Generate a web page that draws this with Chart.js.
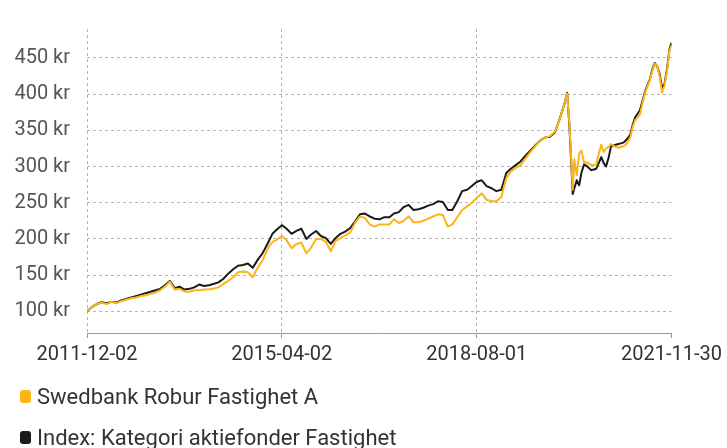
<!DOCTYPE html>
<html>
<head>
<meta charset="utf-8">
<script src="https://cdn.jsdelivr.net/npm/chart.js@4.4.0/dist/chart.umd.min.js"></script>
<style>
  html, body { margin: 0; padding: 0; background: #fff; }
  #wrap { position: relative; width: 727px; height: 448px; }
  #legend { position: absolute; left: 20px; top: 380px; font: 22px Roboto, sans-serif; color: #333; }
  .item { display: flex; align-items: center; height: 32px; margin-bottom: 9px; white-space: nowrap; }
  .swatch { width: 11px; height: 13px; border-radius: 3px; margin-right: 6px; }
</style>
</head>
<body>
<div id="wrap">
  <canvas id="myChart" width="727" height="448"></canvas>
  <div id="legend"></div>
</div>
<script>
Chart.defaults.font.family = "Roboto, 'DejaVu Sans', sans-serif";
Chart.defaults.font.size = 20;
Chart.defaults.color = '#555';

const seriesNames = ['Swedbank Robur Fastighet A', 'Index: Kategori aktiefonder Fastighet'];
const seriesColors = ['#fdb515', '#1a1a1a'];

const xTickLabels = ['2011-12-02', '2015-04-02', '2018-08-01', '2021-11-30'];
const yTickValues = [100, 150, 200, 250, 300, 350, 400, 450];

const dates = [
  '2011-12-02','2012-01-02','2012-02-02','2012-03-02','2012-04-02','2012-05-02','2012-06-02','2012-07-02','2012-08-02','2012-09-02','2012-10-02','2012-11-02',
  '2012-12-02','2013-01-02','2013-02-02','2013-03-02','2013-04-02','2013-05-02','2013-06-02','2013-07-02','2013-08-02','2013-09-02','2013-10-02','2013-11-02',
  '2013-12-02','2014-01-02','2014-02-02','2014-03-02','2014-04-02','2014-05-02','2014-06-02','2014-07-02','2014-08-02','2014-09-02','2014-10-02','2014-11-02',
  '2014-12-02','2015-01-02','2015-02-02','2015-03-02','2015-04-02','2015-05-02','2015-06-02','2015-07-02','2015-08-02','2015-09-02','2015-10-02','2015-11-02',
  '2015-12-02','2016-01-02','2016-02-02','2016-03-02','2016-04-02','2016-05-02','2016-06-02','2016-07-02','2016-08-02','2016-09-02','2016-10-02','2016-11-02',
  '2016-12-02','2017-01-02','2017-02-02','2017-03-02','2017-04-02','2017-05-02','2017-06-02','2017-07-02','2017-08-02','2017-09-02','2017-10-02','2017-11-02',
  '2017-12-02','2018-01-02','2018-02-02','2018-03-02','2018-04-02','2018-05-02','2018-06-02','2018-07-02','2018-08-02','2018-09-02','2018-10-02','2018-11-02',
  '2018-12-02','2019-01-02','2019-02-02','2019-03-02','2019-04-02','2019-05-02','2019-06-02','2019-07-02','2019-08-02','2019-09-02','2019-10-02','2019-11-02',
  '2019-12-02','2020-01-02',
  '2020-02-02','2020-02-17','2020-03-02','2020-03-17','2020-03-23','2020-04-02','2020-04-17','2020-05-02','2020-05-17','2020-06-02','2020-06-17',
  '2020-07-02','2020-07-17','2020-08-02','2020-08-17','2020-09-02','2020-09-17','2020-10-02','2020-10-17','2020-11-02','2020-11-17','2020-12-02','2020-12-17',
  '2021-01-02','2021-01-17','2021-02-02','2021-02-17','2021-03-02','2021-03-17','2021-04-02','2021-04-17','2021-05-02','2021-05-17','2021-06-02','2021-06-17',
  '2021-07-02','2021-07-17','2021-08-02','2021-08-17','2021-09-02','2021-09-17','2021-10-02','2021-10-17','2021-11-02','2021-11-17','2021-11-30'
];

// Swedbank Robur Fastighet A
const fundValues = [
  100, 106, 110, 112, 110, 113, 111, 114, 116, 118, 119, 121,
  122, 124, 126, 129, 134, 141, 130, 131, 127.5, 127, 129, 129,
  130, 130.5, 131.5, 133, 138, 142, 147, 154, 155, 154, 147, 160,
  170, 186, 196, 199, 204, 198, 187, 193, 195, 180, 188, 200,
  200, 196, 183, 197, 201, 205, 209, 222, 231, 229, 220, 217,
  220, 220, 220, 227, 222, 225, 231, 223, 223, 225, 228, 231,
  234, 233, 217, 220, 230, 240, 245, 250, 257, 263, 254, 252,
  252, 258, 284, 293, 298, 302, 311, 320, 328, 336, 340, 342,
  348, 365,
  388, 401, 360, 295, 268, 310, 288, 318, 322, 305, 306,
  304, 302, 302, 303, 318, 330, 320, 325, 327, 331, 329, 327,
  326, 327, 328, 330, 334, 340, 355, 364, 368, 372, 388, 401,
  410, 419, 432, 442, 438, 425, 402, 412, 432, 460, 467
];

// Index: Kategori aktiefonder Fastighet
const indexValues = [
  100, 106, 110, 112.5, 111, 113, 112, 115, 117, 119, 121, 123,
  125, 127, 129, 131, 136, 142, 132, 134, 130, 131, 133, 137,
  135, 136, 138, 140, 145, 152, 158, 163, 164, 166, 160, 171,
  180, 193, 207, 213, 219, 214, 207, 211, 214, 200, 206, 211,
  204, 201, 193, 201, 207, 210, 215, 224, 234, 235, 231, 228,
  227, 230, 230, 235, 237, 244, 247, 240, 241, 243, 246, 248,
  252, 251, 240, 240, 252, 266, 268, 273, 279, 281, 273, 270,
  266, 268, 291, 297, 302, 307, 315, 322, 329, 336, 340, 341,
  347, 366,
  388, 402, 357, 290, 262, 270, 281, 274, 292, 303, 301,
  298, 295, 296, 297, 305, 313, 305, 300, 312, 328, 329, 330,
  331, 332, 333, 336, 339, 344, 358, 368, 373, 378, 391, 403,
  412, 420, 434, 443, 438, 428, 408, 414, 435, 462, 471
];

function dayNumber(s) {
  const p = s.split('-');
  const s0 = xTickLabels[0].split('-');
  return (Date.UTC(+p[0], p[1] - 1, +p[2]) - Date.UTC(+s0[0], s0[1] - 1, +s0[2])) / 86400000;
}
const xTickDays = xTickLabels.map(dayNumber);

function toPoints(values) {
  return dates.map((d, i) => ({x: dayNumber(d), y: values[i]}));
}

const gridColor = '#b5b5b5';

const ctx = document.getElementById('myChart');
new Chart(ctx, {
  type: 'line',
  data: {
    datasets: [{
      label: seriesNames[0],
      data: toPoints(fundValues),
      borderColor: seriesColors[0],
      borderWidth: 2,
      pointRadius: 0,
      borderJoinStyle: 'round',
    }, {
      label: seriesNames[1],
      data: toPoints(indexValues),
      borderColor: seriesColors[1],
      borderWidth: 2,
      pointRadius: 0,
      borderJoinStyle: 'round',
    }]
  },
  options: {
    responsive: false,
    animation: false,
    layout: { padding: { top: 17, right: 55 } },
    plugins: { legend: { display: false }, tooltip: { enabled: false } },
    scales: {
      x: {
        type: 'linear',
        min: 0,
        max: xTickDays[xTickDays.length - 1],
        afterBuildTicks: s => { s.ticks = xTickDays.map(v => ({value: v})); },
        afterFit: s => { s.height = 115; },
        ticks: {
          autoSkip: false,
          maxRotation: 0,
          padding: 5,
          color: '#333',
          callback: v => xTickLabels[xTickDays.indexOf(v)]
        },
        grid: {
          color: c => c.index === xTickDays.length - 1 ? 'rgba(0,0,0,0)' : gridColor,
          tickColor: '#999',
          tickLength: 5,
        },
        border: { display: true, color: '#999', dash: [3, 3] }
      },
      y: {
        min: 70,
        max: 490,
        afterBuildTicks: s => { s.ticks = yTickValues.map(v => ({value: v})); },
        afterFit: s => { s.width = 87; },
        ticks: { padding: 17, color: '#555', callback: v => v + ' kr' },
        grid: { color: gridColor, drawTicks: false },
        border: { display: false, dash: [3, 3] }
      }
    }
  }
});

// legend below the chart, one item per row
const legend = document.getElementById('legend');
seriesNames.forEach((name, i) => {
  const item = document.createElement('div');
  item.className = 'item';
  item.innerHTML = '<span class="swatch" style="background:' + seriesColors[i] + '"></span>' + name;
  legend.appendChild(item);
});
</script>
</body>
</html>
